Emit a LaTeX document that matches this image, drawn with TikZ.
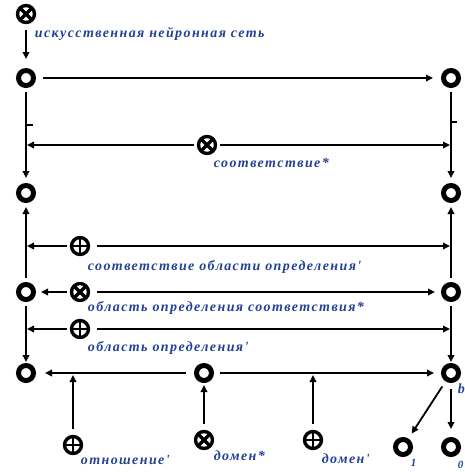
\documentclass[tikz,border=0pt]{standalone}
\usepackage{fontspec}
\setmainfont{Liberation Serif}
\newfontfamily\labfont[LetterSpace=10]{Liberation Serif}
\usetikzlibrary{arrows.meta}
\definecolor{lblue}{RGB}{35,65,150}
\begin{document}
\begin{tikzpicture}[x=1pt,y=-1pt,line width=1.8pt,
    >={Triangle[length=7pt,width=6.5pt]},
    vx/.style={circle,draw,line width=5pt,fill=white,minimum size=15pt,inner sep=0pt},
    opl/.style={circle,draw,line width=3.4pt,minimum size=17pt,inner sep=0pt,
        path picture={\draw[line width=2.8pt] (path picture bounding box.north) -- (path picture bounding box.south)
            (path picture bounding box.west) -- (path picture bounding box.east);}},
    otm/.style={circle,draw,line width=3.4pt,minimum size=17pt,inner sep=0pt,
        path picture={\draw[line width=3.2pt] (path picture bounding box.north west) -- (path picture bounding box.south east)
            (path picture bounding box.north east) -- (path picture bounding box.south west);}},
    lbl/.style={text=lblue,font=\labfont\bfseries\itshape\fontsize{14}{16}\selectfont,anchor=west,inner sep=0pt}]
    \useasboundingbox (0,0) rectangle (465,472);
    \node[otm] (nn) at (26,14) {};
    \node[lbl] (nnl) at (34,34) {искусственная нейронная сеть};
    \node[vx] (a1) at (26,78) {};
    \node[vx] (b1) at (451,78) {};
    \node[vx] (a2) at (26,193) {};
    \node[vx] (b2) at (451,193) {};
    \node[vx] (a3) at (26,292) {};
    \node[vx] (b3) at (451,292) {};
    \node[vx] (a4) at (26,373) {};
    \node[vx] (m4) at (204,373) {};
    \node[vx] (b4) at (451,373) {};
    \node[vx] (c1) at (403,447) {};
    \node[vx] (c0) at (451,447) {};
    \draw[->,shorten <=6pt,shorten >=9pt] (nn) -- (a1);
    \draw[->,shorten <=7pt,shorten >=8pt] (a1) -- (b1);
    \draw[->,shorten <=4pt,shorten >=5pt] (a1) -- (a2);
    \draw[->,shorten <=4pt,shorten >=5pt] (b1) -- (b2);
    \coordinate (tl) at (27,125);
    \coordinate (tr) at (451,122);
    \draw (tl) -- ++(6,0);
    \draw (tr) -- ++(6,0);
    % соответствие
    \node[otm] (sv) at (207,145) {};
    \node[lbl] (svl) at (213,163) {соответствие*};
    \coordinate (svw) at (27,145);
    \coordinate (sve) at (450,145);
    \draw[->,shorten <=3pt] (sv) -- (svw);
    \draw[->,shorten <=3pt] (sv) -- (sve);
    \draw[->,shorten <=4pt,shorten >=4pt] (a3) -- (a2);
    \draw[->,shorten <=4pt,shorten >=4pt] (b3) -- (b2);
    % соответствие области определения
    \node[opl] (so) at (80,246) {};
    \node[lbl] (sol) at (87,267) {соответствие области определения'};
    \coordinate (sow) at (27,246);
    \coordinate (soe) at (450,246);
    \draw[->,shorten <=3pt] (so) -- (sow);
    \draw[->,shorten <=7pt] (so) -- (soe);
    % область определения соответствия
    \node[otm] (os) at (80,292) {};
    \node[lbl] (osl) at (87,308) {область определения соответствия*};
    \draw[->,shorten <=3pt,shorten >=5pt] (os) -- (a3);
    \draw[->,shorten <=7pt,shorten >=6pt] (os) -- (b3);
    % область определения
    \node[opl] (oo) at (80,329) {};
    \node[lbl] (ool) at (87,348) {область определения'};
    \coordinate (oow) at (27,329);
    \coordinate (ooe) at (450,329);
    \draw[->,shorten <=3pt] (oo) -- (oow);
    \draw[->,shorten <=7pt] (oo) -- (ooe);
    \draw[->,shorten <=4pt,shorten >=1pt] (a3) -- (a4);
    \draw[->,shorten <=4pt,shorten >=1pt] (b3) -- (b4);
    % нижний ряд
    \draw[->,shorten <=8pt,shorten >=9pt] (m4) -- (a4);
    \draw[->,shorten <=6pt,shorten >=7pt] (m4) -- (b4);
    \node[opl] (ot) at (73,445) {};
    \node[lbl] (otl) at (80,460) {отношение'};
    \coordinate (otn) at (73,375);
    \draw[->,shorten <=6pt] (ot) -- (otn);
    \node[otm] (dz) at (204,440) {};
    \node[lbl] (dzl) at (213,456) {домен*};
    \draw[->,shorten <=6pt,shorten >=2pt] (dz) -- (m4);
    \node[opl] (dp) at (313,440) {};
    \node[lbl] (dpl) at (321,459) {домен'};
    \coordinate (dpn) at (313,375);
    \draw[->,shorten <=6pt] (dp) -- (dpn);
    \node[lbl] (bl) at (457,389) {b};
    \draw[->,shorten <=6pt,shorten >=6pt] (b4) -- (c1);
    \draw[->,shorten <=6pt,shorten >=8pt] (b4) -- (c0);
    \node[lbl,font=\bfseries\itshape\fontsize{11}{13}\selectfont] (c1l) at (410,463) {1};
    \node[lbl,font=\bfseries\itshape\fontsize{11}{13}\selectfont] (c0l) at (457,465) {0};
\end{tikzpicture}
\end{document}
